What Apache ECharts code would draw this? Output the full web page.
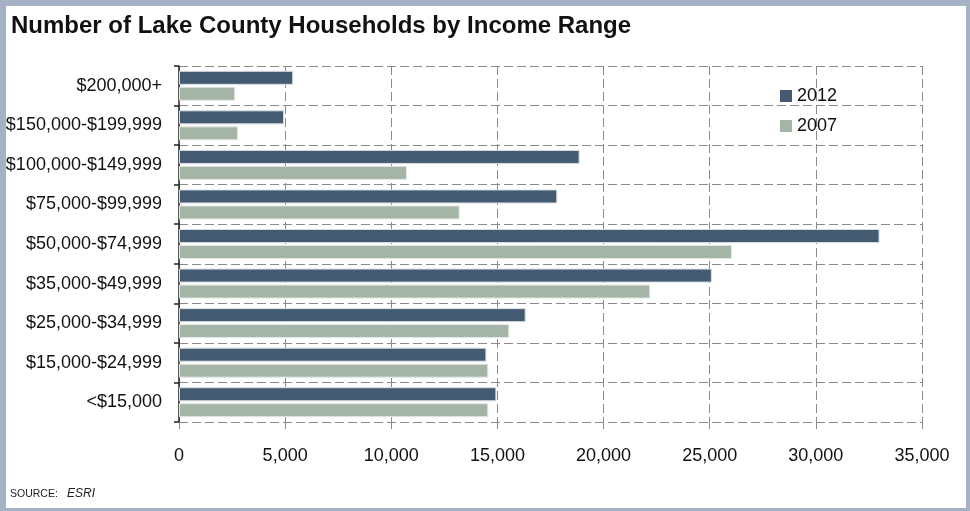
<!DOCTYPE html>
<html>
<head>
<meta charset="utf-8">
<script src="https://cdn.jsdelivr.net/npm/echarts@6/dist/echarts.min.js"></script>
<style>
  html, body { margin: 0; padding: 0; background: #fff; }
  #chart { width: 970px; height: 511px; }
</style>
</head>
<body>
<div id="chart"></div>
<script>
// Income brackets, listed top to bottom
const categories = [
  '$200,000+', '$150,000-$199,999', '$100,000-$149,999', '$75,000-$99,999',
  '$50,000-$74,999', '$35,000-$49,999', '$25,000-$34,999', '$15,000-$24,999', '<$15,000'
];
// Household counts per bracket
const households2012 = [5380, 4950, 18870, 17820, 33000, 25100, 16330, 14480, 14950];
const households2007 = [2650, 2780, 10740, 13220, 26050, 22200, 15560, 14570, 14570];
const seriesNames = ['2012', '2007'];
const xTicks = [0, 5000, 10000, 15000, 20000, 25000, 30000, 35000];

const FONT = "'Liberation Sans Narrow', 'Arial Narrow', 'Liberation Sans', Arial, sans-serif";
const DARK = '#435a70';
const LIGHT = '#a4b4a6';
const FRAME = '#a5b1c4';
const GRID_LINE = { color: '#8a8a8a', width: 1, type: [9, 4] };

const chart = echarts.init(document.getElementById('chart'), null, { renderer: 'canvas' });

chart.setOption({
  animation: false,
  backgroundColor: '#ffffff',
  title: {
    text: 'Number of Lake County Households by Income Range',
    left: 6,
    top: 9,
    textStyle: { fontFamily: FONT, fontSize: 24, fontWeight: 'bold', color: '#111' }
  },
  legend: {
    data: seriesNames,
    orient: 'vertical',
    left: 780,
    top: 87,
    padding: 0,
    itemWidth: 12,
    itemHeight: 12,
    itemGap: 12,
    icon: 'rect',
    itemStyle: { borderWidth: 0 },
    textStyle: { fontFamily: FONT, fontSize: 18, color: '#111' }
  },
  grid: { left: 179, right: 48, top: 66, bottom: 89, outerBoundsMode: 'none', containLabel: false },
  xAxis: {
    type: 'value',
    min: 0,
    max: 35000,
    interval: 5000,
    axisLine: { show: false },
    axisTick: { show: true, length: 7, lineStyle: { color: '#8a8a8a' } },
    axisLabel: {
      margin: 25,
      fontFamily: FONT, fontSize: 18, color: '#111',
      formatter: v => xTicks.includes(v) ? v.toLocaleString('en-US') : ''
    },
    splitLine: { show: true, lineStyle: GRID_LINE }
  },
  yAxis: {
    type: 'category',
    data: categories,
    inverse: true,
    axisLine: { show: true, lineStyle: { color: '#222', width: 1.5 } },
    axisTick: { show: true, length: 5, lineStyle: { color: '#222', width: 1.5 } },
    axisLabel: { margin: 17, fontFamily: FONT, fontSize: 18, color: '#111' },
    splitLine: { show: true, lineStyle: GRID_LINE }
  },
  series: [
    {
      name: '2012', type: 'bar', data: households2012,
      barWidth: 14, barGap: '14%',
      itemStyle: { color: DARK, borderColor: '#d6dde3', borderWidth: 1 }
    },
    {
      name: '2007', type: 'bar', data: households2007,
      barWidth: 14, barGap: '14%',
      itemStyle: { color: LIGHT, borderColor: '#e4e9e4', borderWidth: 1 }
    }
  ],
  graphic: [
    // frame
    { type: 'rect', left: 0, top: 0, shape: { width: 970, height: 6 }, style: { fill: FRAME }, z: 100 },
    { type: 'rect', left: 0, top: 0, shape: { width: 6, height: 511 }, style: { fill: FRAME }, z: 100 },
    { type: 'rect', left: 966, top: 0, shape: { width: 4, height: 511 }, style: { fill: FRAME }, z: 100 },
    { type: 'rect', left: 0, top: 508, shape: { width: 970, height: 3 }, style: { fill: FRAME }, z: 100 },
    // source note
    {
      type: 'text', left: 10, top: 488,
      style: {
        text: '{a|SOURCE:}{b|ESRI}',
        rich: {
          a: { fontFamily: FONT, fontSize: 10.5, fill: '#222', width: 57 },
          b: { fontFamily: FONT, fontSize: 12, fill: '#222', fontStyle: 'italic' }
        }
      }
    }
  ]
});
</script>
</body>
</html>
